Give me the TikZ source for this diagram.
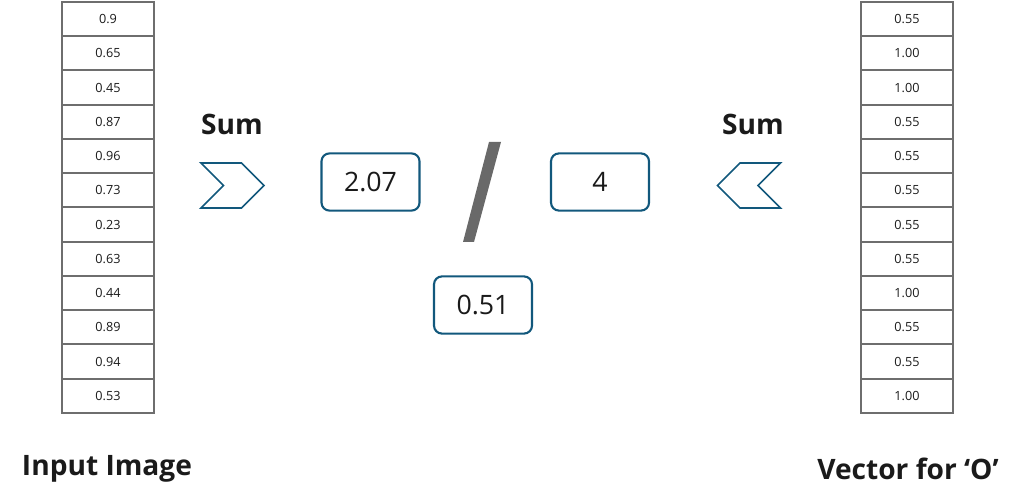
\documentclass[tikz,border=0pt]{standalone}
\usepackage{fontspec}
\setmainfont{Open Sans}
\usepackage{tikz}
\usetikzlibrary{shapes.symbols}
\definecolor{boxblue}{RGB}{18,88,124}
\definecolor{cellgray}{RGB}{110,110,110}
\definecolor{slashgray}{RGB}{105,105,105}
\definecolor{inkblack}{RGB}{26,26,26}
\tikzstyle{cell} = [draw=cellgray, line width=1.4pt, minimum width=2.3cm, minimum height=0.856cm, inner sep=0pt, font=\fontsize{9}{10}\selectfont, text=inkblack]
\tikzstyle{valbox} = [draw=boxblue, line width=1.5pt, rounded corners=0.2cm, minimum width=2.45cm, minimum height=1.43cm, inner sep=0pt, font=\fontsize{19}{22}\selectfont, text=inkblack]
\tikzstyle{chev} = [draw=boxblue, line width=1.2pt, shape=signal, minimum width=1.575cm, minimum height=1.125cm, inner sep=0pt]
\tikzstyle{caption} = [font=\bfseries\fontsize{20}{24}\selectfont, text=inkblack]

\begin{document}
\begin{tikzpicture}[x=0.025cm, y=-0.025cm, node distance=0.856cm]
		\useasboundingbox (0,0) rectangle (1017,503);

		\node (in1) [cell] at (108,19.1) {0.9};
		\node (in2) [cell, below of=in1] {0.65};
		\node (in3) [cell, below of=in2] {0.45};
		\node (in4) [cell, below of=in3] {0.87};
		\node (in5) [cell, below of=in4] {0.96};
		\node (in6) [cell, below of=in5] {0.73};
		\node (in7) [cell, below of=in6] {0.23};
		\node (in8) [cell, below of=in7] {0.63};
		\node (in9) [cell, below of=in8] {0.44};
		\node (in10) [cell, below of=in9] {0.89};
		\node (in11) [cell, below of=in10] {0.94};
		\node (in12) [cell, below of=in11] {0.53};
		\node (inlabel) [caption] at (107,469) {Input Image};

		\node (vec1) [cell] at (907,19.1) {0.55};
		\node (vec2) [cell, below of=vec1] {1.00};
		\node (vec3) [cell, below of=vec2] {1.00};
		\node (vec4) [cell, below of=vec3] {0.55};
		\node (vec5) [cell, below of=vec4] {0.55};
		\node (vec6) [cell, below of=vec5] {0.55};
		\node (vec7) [cell, below of=vec6] {0.55};
		\node (vec8) [cell, below of=vec7] {0.55};
		\node (vec9) [cell, below of=vec8] {1.00};
		\node (vec10) [cell, below of=vec9] {0.55};
		\node (vec11) [cell, below of=vec10] {0.55};
		\node (vec12) [cell, below of=vec11] {1.00};
		\node (veclabel) [caption] at (908,469) {Vector for ‘O’};

		\node (sumin) [chev, signal to=east, signal from=west] at (232.5,185.5) {};
		\node (suminlabel) [caption] at (232,124) {Sum};
		\node (sumvec) [chev, signal to=west, signal from=east] at (749,185.5) {};
		\node (sumveclabel) [caption] at (753,124) {Sum};

		\node (total) [valbox] at (370.5,182) {2.07};
		\node (count) [valbox] at (600,182) {4};
		\node (mean) [valbox] at (483,305) {0.51};

		\fill [slashgray] (489,142) -- (501,142) -- (474,242) -- (463,242) -- cycle;
	\end{tikzpicture}
\end{document}
